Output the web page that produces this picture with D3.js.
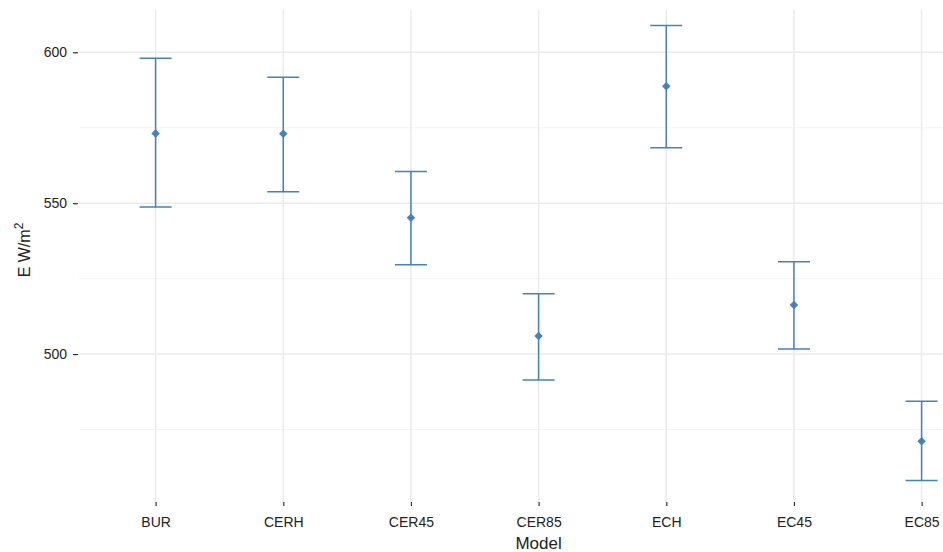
<!DOCTYPE html>
<html><head><meta charset="utf-8">
<script src="https://cdn.jsdelivr.net/npm/d3@7"></script>
<style>body{margin:0;background:#fff}svg{display:block;font-family:"Liberation Sans",Arial,sans-serif}</style>
</head><body><svg id="c" width="943" height="552"></svg>
<script>
const categories = ["BUR","CERH","CER45","CER85","ECH","EC45","EC85"];
const means = [573.1, 573.0, 545.2, 506.0, 588.7, 516.3, 471.1];
const upper = [598.0, 591.7, 560.5, 520.0, 608.9, 530.6, 484.4];
const lower = [548.7, 553.8, 529.6, 491.4, 568.4, 501.7, 458.1];
const yTicks = [500, 550, 600];
const yMinor = [475, 525, 575];

(function(){
const svg = d3.select("#c");
const pL = 79, pT = 10, pB = 502, pR = 943;
const x = d3.scalePoint().domain(categories).range([pL, pL + 919.2]).padding(0.6);
const y = d3.scaleLinear().domain([451, 614]).range([pB, pT]);
const g = svg.append("g");

g.selectAll(".ymin").data(yMinor).enter().append("line")
  .attr("x1", pL).attr("x2", pR).attr("y1", d=>y(d)).attr("y2", d=>y(d))
  .attr("stroke", "#f4f4f4").attr("stroke-width", 1);
g.selectAll(".ymaj").data(yTicks).enter().append("line")
  .attr("x1", pL).attr("x2", pR).attr("y1", d=>y(d)).attr("y2", d=>y(d))
  .attr("stroke", "#ebebeb").attr("stroke-width", 1.5);
g.selectAll(".xmaj").data(categories).enter().append("line")
  .attr("x1", d=>x(d)).attr("x2", d=>x(d)).attr("y1", pT).attr("y2", pB)
  .attr("stroke", "#ebebeb").attr("stroke-width", 1.5);

const yAxis = d3.axisLeft(y).tickValues(yTicks).tickSize(5).tickPadding(6);
const ya = svg.append("g").attr("transform", `translate(${pL-1},0)`).call(yAxis);
const xAxis = d3.axisBottom(x).tickSize(4).tickPadding(11);
const xa = svg.append("g").attr("transform", `translate(0,${pB})`).call(xAxis);
[ya, xa].forEach(a => {
  a.select(".domain").remove();
  a.selectAll(".tick line").attr("stroke", "#333").attr("stroke-width", 1.2);
  a.selectAll(".tick text").attr("fill", "#222").style("font-size", "14px");
});

const col = "#4682b4";
const eb = svg.append("g").attr("stroke", col).attr("stroke-width", 1.5).attr("fill", "none");
categories.forEach((c, i) => {
  const cx = x(c);
  eb.append("line").attr("x1", cx).attr("x2", cx).attr("y1", y(upper[i])).attr("y2", y(lower[i]));
  eb.append("line").attr("x1", cx-16).attr("x2", cx+16).attr("y1", y(upper[i])).attr("y2", y(upper[i]));
  eb.append("line").attr("x1", cx-16).attr("x2", cx+16).attr("y1", y(lower[i])).attr("y2", y(lower[i]));
});
svg.append("g").selectAll("path").data(categories).enter().append("path")
  .attr("d", d3.symbol().type(d3.symbolSquare).size(36))
  .attr("transform", (d,i) => `translate(${x(d)},${y(means[i])}) rotate(45)`)
  .attr("fill", col);

svg.append("text").attr("x", (pL + pL + 919.2) / 2).attr("y", 549).attr("text-anchor", "middle")
  .style("font-size", "17px").attr("fill", "#222").text("Model");
const yt = svg.append("text").attr("transform", "translate(30,250) rotate(-90)")
  .attr("text-anchor", "middle").style("font-size", "16px").attr("fill", "#222");
yt.append("tspan").text("E W/m");
yt.append("tspan").attr("dy", -7).style("font-size", "12px").text("2");
})();
</script></body></html>
